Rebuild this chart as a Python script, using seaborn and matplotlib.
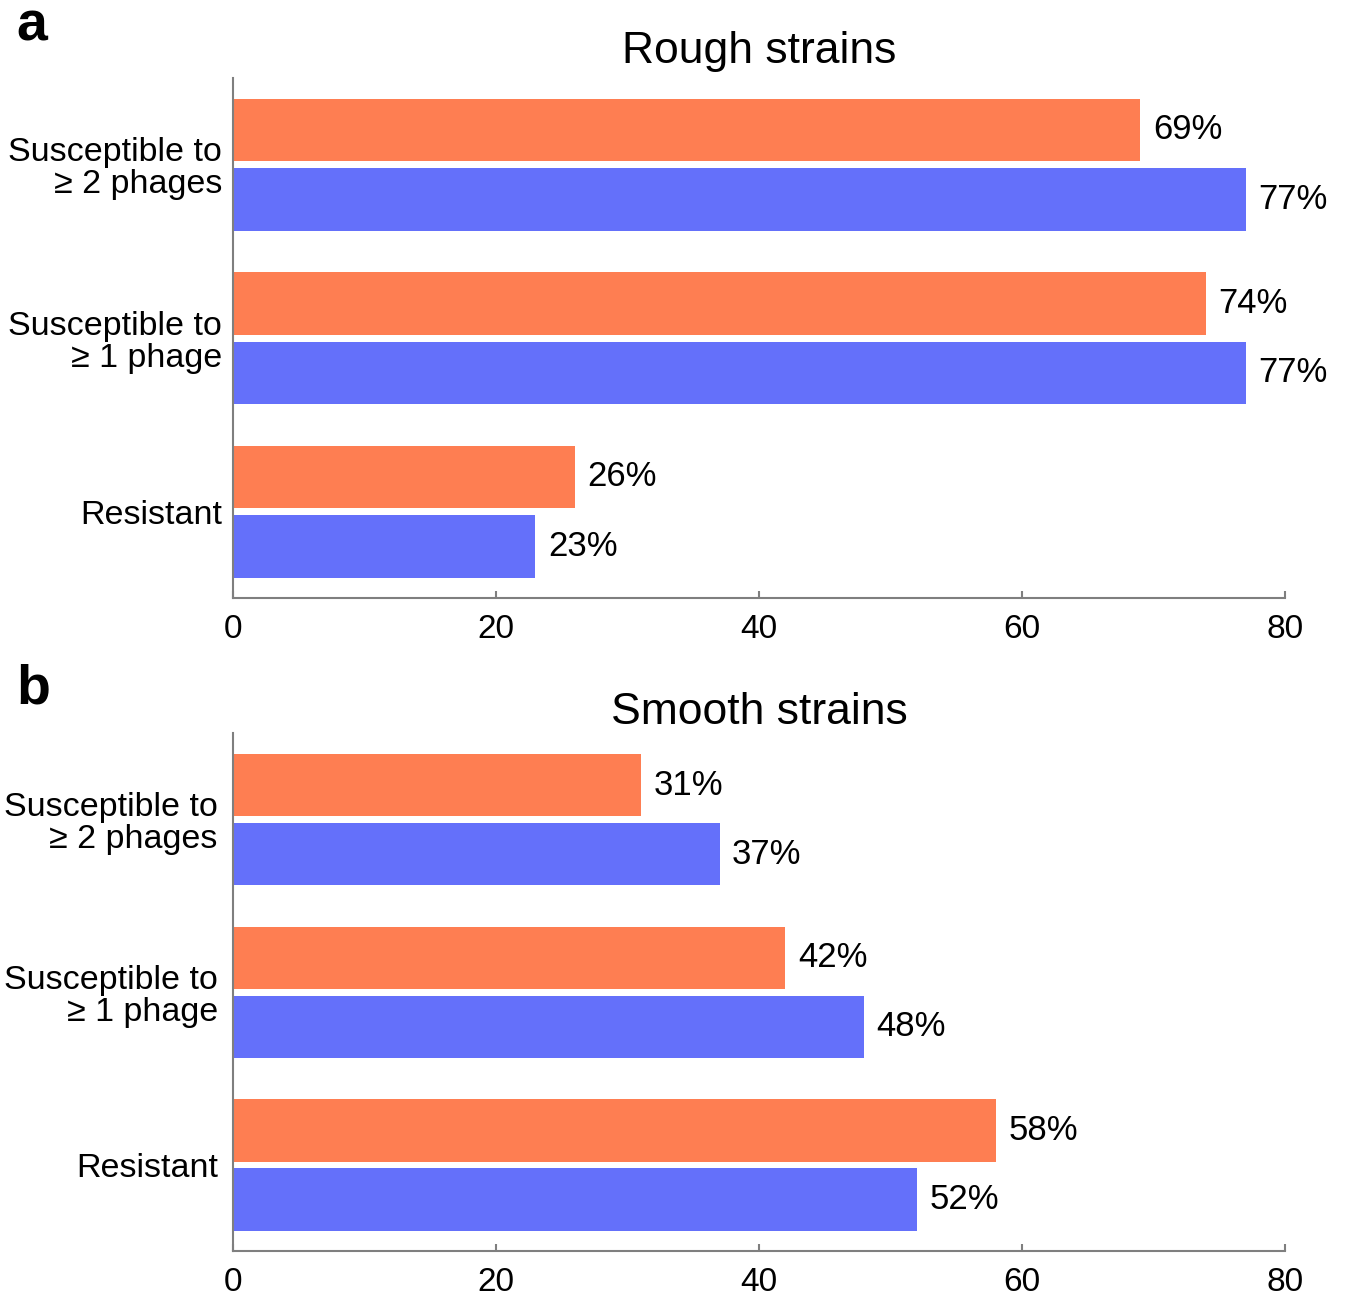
import pandas as pd
import seaborn as sns
import matplotlib.pyplot as plt

# -------------------------------
# Data
# -------------------------------
categories = ["Susceptible to\n\u2265 2 phages", "Susceptible to\n\u2265 1 phage", "Resistant"]
series_names = ["Series A", "Series B"]
rough_a = [69, 74, 26]
rough_b = [77, 77, 23]
smooth_a = [31, 42, 58]
smooth_b = [37, 48, 52]
x_ticks = [0, 20, 40, 60, 80]

colors = ["#FE7E52", "#6470FA"]
axis_gray = "#7f7f7f"

sns.set_style("ticks")
plt.rcParams['font.family'] = ['Liberation Sans', 'DejaVu Sans']
plt.rcParams['text.color'] = 'black'
plt.rcParams['xtick.labelcolor'] = 'black'
plt.rcParams['ytick.labelcolor'] = 'black'


def make_df(vals_a, vals_b):
    return pd.DataFrame({
        "category": categories * 2,
        "series": [series_names[0]] * 3 + [series_names[1]] * 3,
        "value": vals_a + vals_b,
    })


fig = plt.figure(figsize=(13.47, 12.98), dpi=100)
ax_a = fig.add_axes([0.173, 0.539, 0.781, 0.401])
ax_b = fig.add_axes([0.173, 0.036, 0.781, 0.399])

# axes, data, title, title pad, label pad, panel letter, letter y
panels = [
    (ax_a, make_df(rough_a, rough_b), "Rough strains", 11, 8, "a", 0.969),
    (ax_b, make_df(smooth_a, smooth_b), "Smooth strains", 1, 11, "b", 0.458),
]

for ax, df, title, tpad, ypad, letter, ly in panels:
    sns.barplot(data=df, y="category", x="value", hue="series", orient="h",
                palette=colors, saturation=1, width=0.8, gap=0.1,
                linewidth=0, legend=False, ax=ax)
    for cont in ax.containers:
        ax.bar_label(cont, fmt="%d%%", padding=9, fontsize=25, color="black")
    ax.set_xlim(0, 80)
    ax.set_ylim(2.5, -0.5)
    ax.set_xticks(x_ticks)
    ax.set_xlabel("")
    ax.set_ylabel("")
    ax.set_title(title, fontsize=32, pad=tpad, color="black")
    ax.tick_params(axis="x", direction="in", length=5, width=1.5,
                   color=axis_gray, labelsize=24, pad=11)
    ax.tick_params(axis="y", length=0, labelsize=24.5, pad=ypad)
    for lab in ax.get_yticklabels():
        lab.set_linespacing(1.05)
    sns.despine(ax=ax)
    for side in ["left", "bottom"]:
        ax.spines[side].set_color(axis_gray)
        ax.spines[side].set_linewidth(1.5)
    fig.text(0.012, ly, letter, fontsize=40, fontweight="bold", va="baseline")

plt.savefig("out.png", dpi=100)
plt.close()
